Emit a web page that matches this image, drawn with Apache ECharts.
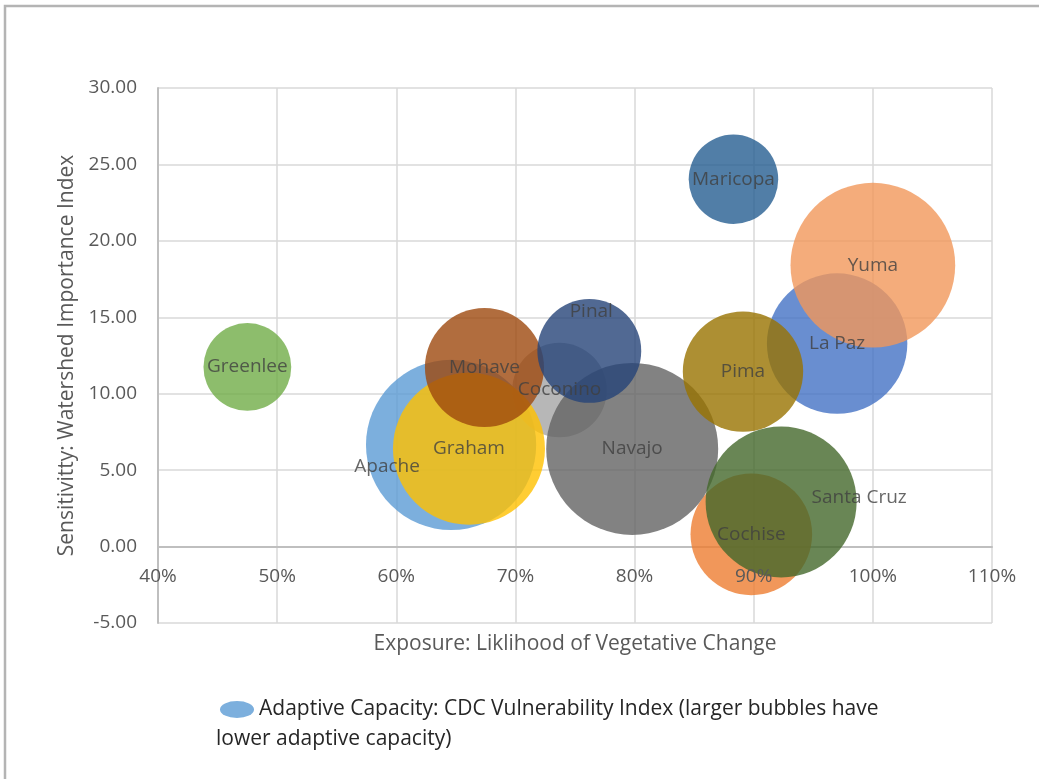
<!DOCTYPE html>
<html>
<head>
<meta charset="utf-8">
<script src="https://cdn.jsdelivr.net/npm/echarts@6/dist/echarts.min.js"></script>
<style>
  html, body { margin: 0; background: #fff; }
  #chart { width: 1039px; height: 779px; }
</style>
</head>
<body>
<div id="chart"></div>
<script>
// county data
const counties = ['Apache', 'Cochise', 'Coconino', 'Graham', 'La Paz', 'Greenlee', 'Maricopa',
                  'Mohave', 'Navajo', 'Pima', 'Pinal', 'Santa Cruz', 'Yuma'];
const exposure = [64.6, 89.8, 73.7, 66.1, 97.0, 47.5, 88.3, 67.4, 79.8, 89.1, 76.2, 92.3, 100.0];
const sensitivity = [6.65, 0.8, 10.24, 6.4, 13.28, 11.75, 24.03, 11.71, 6.39, 11.45, 12.8, 2.92, 18.41];
const vulnerability = [0.94, 0.48, 0.29, 0.75, 0.64, 0.25, 0.26, 0.46, 0.96, 0.47, 0.35, 0.74, 0.88];

const xMin = 40, xMax = 110, xStep = 10;
const yMin = -5, yMax = 30, yStep = 5;

const seriesName = 'Adaptive Capacity: CDC Vulnerability Index (larger bubbles have lower adaptive capacity)';
const legendLine1 = 'Adaptive Capacity: CDC Vulnerability Index (larger bubbles have';
const legendLine2 = 'lower adaptive capacity)';

// office-like palette, one colour per bubble
const palette = ['#5B9BD5', '#ED7D31', '#A5A5A5', '#FFC000', '#4472C4', '#70AD47', '#255E91',
                 '#9E480E', '#636363', '#997300', '#264478', '#43682B', '#F1975A'];
// labels that Excel placed off-centre
const labelOffsets = { 'Apache': [-64, 22], 'Pinal': [2, -39], 'Santa Cruz': [78, -4] };

const font = 'Open Sans';
const maxV = Math.max(...vulnerability);

const gridTop = 88, gridBottom = 156, chartH = 779;
const gridH = chartH - gridTop - gridBottom;
// x axis sits at y = 0, labels under it (shift the axis up from the grid bottom)
const zeroShift = gridH * (0 - yMin) / (yMax - yMin);

const data = counties.map((name, i) => ({
  name: name,
  value: [exposure[i], sensitivity[i], vulnerability[i]],
  itemStyle: { color: palette[i], opacity: 0.8 },
  label: labelOffsets[name] ? { offset: labelOffsets[name] } : undefined
}));

const xLabelStyle = { formatter: '{value}%', fontFamily: font, fontSize: 19, color: '#595959', margin: 21 };

const myChart = echarts.init(document.getElementById('chart'));
const option = {
  backgroundColor: '#fff',
  animation: false,
  textStyle: { fontFamily: font },
  grid: { left: 158, right: 47, top: gridTop, bottom: gridBottom },
  legend: {
    left: 215,
    top: 694,
    itemWidth: 34,
    itemHeight: 17,
    symbolKeepAspect: false,
    data: [{ name: seriesName, icon: 'path://M0,5a5,5 0 1,0 10,0a5,5 0 1,0 -10,0', itemStyle: { color: '#5B9BD5' } }],
    formatter: () => legendLine1,
    textStyle: { fontFamily: font, fontSize: 21, color: '#262626' }
  },
  graphic: [
    {
      type: 'text', left: 216, top: 729,
      style: { text: legendLine2, fontFamily: font, fontSize: 21, fill: '#262626' }
    },
    {
      type: 'rect', silent: true,
      shape: { x: 5, y: 6, width: 1100, height: 900 },
      style: { fill: 'none', stroke: '#B4B4B4', lineWidth: 2.5 }
    }
  ],
  xAxis: [{
    type: 'value',
    min: xMin, max: xMax, interval: xStep,
    offset: -zeroShift,
    name: 'Exposure: Liklihood of Vegetative Change',
    nameLocation: 'middle',
    nameGap: 87,
    nameTextStyle: { fontFamily: font, fontSize: 21, color: '#595959' },
    axisLine: { show: true, onZero: false, lineStyle: { color: '#BFBFBF', width: 2 } },
    axisTick: { show: false },
    axisLabel: { show: false },
    splitLine: { show: true, lineStyle: { color: '#D9D9D9', width: 1.5 } }
  }, {
    // label-only copy so tick labels sit above the bubbles, as in Excel
    type: 'value',
    position: 'bottom',
    min: xMin, max: xMax, interval: xStep,
    offset: -zeroShift,
    z: 10,
    axisLine: { show: false, onZero: false },
    axisTick: { show: false },
    axisLabel: xLabelStyle,
    splitLine: { show: false }
  }],
  yAxis: {
    type: 'value',
    min: yMin, max: yMax, interval: yStep,
    name: 'Sensitivitty: Watershed Importance Index',
    nameLocation: 'middle',
    nameGap: 79,
    nameTextStyle: { fontFamily: font, fontSize: 21, color: '#595959' },
    axisLine: { show: true, onZero: false, lineStyle: { color: '#BFBFBF', width: 2 } },
    axisTick: { show: false },
    axisLabel: { formatter: v => v.toFixed(2), fontFamily: font, fontSize: 19, color: '#595959', margin: 21 },
    splitLine: { show: true, lineStyle: { color: '#D9D9D9', width: 1.5 } }
  },
  series: [{
    name: seriesName,
    type: 'scatter',
    xAxisIndex: 0,
    symbol: 'circle',
    symbolSize: val => 172 * Math.sqrt(val[2] / maxV),
    data: data,
    label: {
      show: true,
      position: 'inside',
      formatter: '{b}',
      fontFamily: font,
      fontSize: 19,
      color: '#404040'
    },
    emphasis: { disabled: true }
  }]
};
myChart.setOption(option);
</script>
</body>
</html>
